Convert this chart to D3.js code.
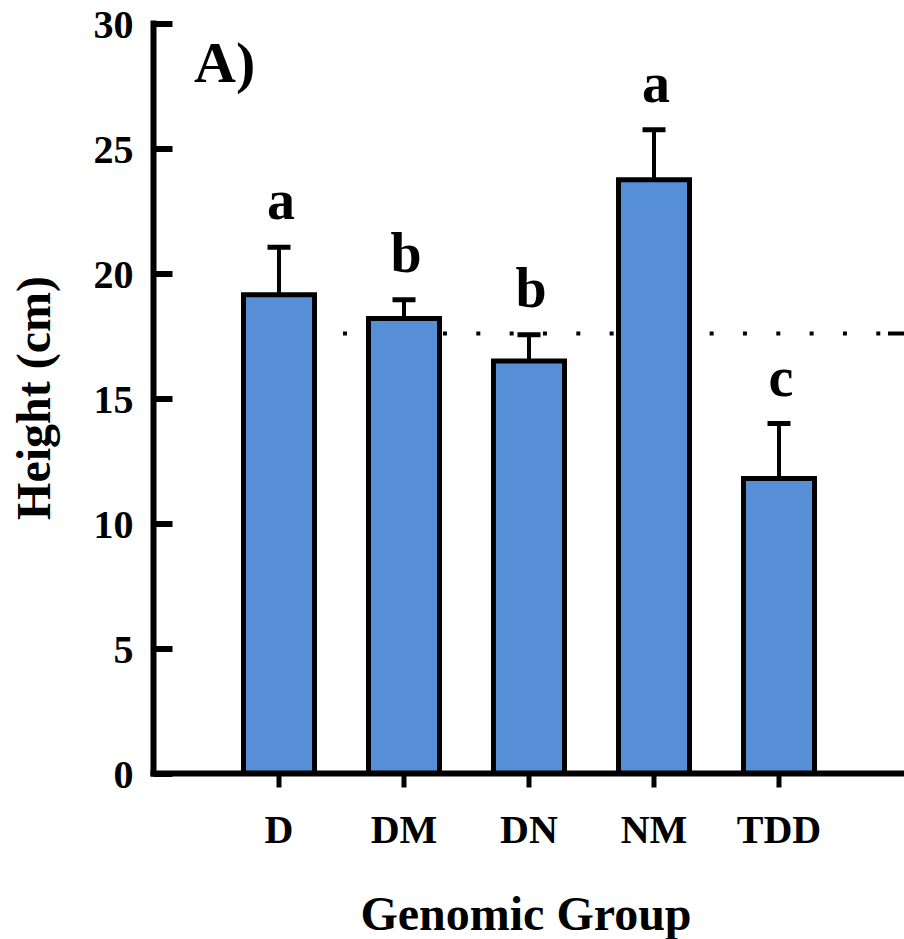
<!DOCTYPE html>
<html>
<head>
<meta charset="utf-8">
<script src="https://cdn.jsdelivr.net/npm/d3@7"></script>
<style>
  body { margin: 0; background: #fff; }
  svg text { font-family: "Liberation Serif", "Times New Roman", serif; font-weight: bold; fill: #000; }
</style>
</head>
<body>
<svg id="chart" width="904" height="939"></svg>
<script>
// values
var groups = ['D', 'DM', 'DN', 'NM', 'TDD']
var means = [19.15, 18.2, 16.5, 23.75, 11.8]
var errs = [1.9, 0.75, 1.05, 2.0, 2.2]
var letters = ['a', 'b', 'b', 'a', 'c']
var yTicks = [0, 5, 10, 15, 20, 25, 30]
var refLine = 17.6

var svg = d3.select('#chart')

var x = d3.scaleBand().domain(groups).range([216.5, 841.5]).paddingInner(0.432).paddingOuter(0.216)
var y = d3.scaleLinear().domain([0, 30]).range([773.5, 23.5])

// dotted reference line (behind bars)
svg.append('line')
  .attr('x1', 343).attr('x2', 888)
  .attr('y1', y(refLine)).attr('y2', y(refLine))
  .style('stroke', '#000').style('stroke-width', 4)
  .style('stroke-dasharray', '4,29.33')
svg.append('line')
  .attr('x1', 888).attr('x2', 904)
  .attr('y1', y(refLine)).attr('y2', y(refLine))
  .style('stroke', '#000').style('stroke-width', 4)

var data = groups.map(function(g, i){
  return {g: g, v: means[i], e: errs[i], l: letters[i]}
})

// error bars
var eb = svg.selectAll('.err').data(data).enter().append('g').attr('class', 'err')
eb.append('line')
  .attr('x1', function(d){ return x(d.g) + x.bandwidth()/2 })
  .attr('x2', function(d){ return x(d.g) + x.bandwidth()/2 })
  .attr('y1', function(d){ return y(d.v) })
  .attr('y2', function(d){ return y(d.v + d.e) })
  .style('stroke', '#000').style('stroke-width', 4)
eb.append('line')
  .attr('x1', function(d){ return x(d.g) + x.bandwidth()/2 - 11.5 })
  .attr('x2', function(d){ return x(d.g) + x.bandwidth()/2 + 11.5 })
  .attr('y1', function(d){ return y(d.v + d.e) })
  .attr('y2', function(d){ return y(d.v + d.e) })
  .style('stroke', '#000').style('stroke-width', 5)

// bars
svg.selectAll('.bar').data(data).enter().append('rect')
  .attr('class', 'bar')
  .attr('x', function(d){ return x(d.g) })
  .attr('width', x.bandwidth())
  .attr('y', function(d){ return y(d.v) })
  .attr('height', function(d){ return y(0) - y(d.v) })
  .style('fill', '#578fd6')
  .style('stroke', '#000')
  .style('stroke-width', 5)

// significance letters
svg.selectAll('.sig').data(data).enter().append('text')
  .attr('class', 'sig')
  .attr('x', function(d){ return x(d.g) + x.bandwidth()/2 + 2 })
  .attr('y', function(d){ return y(d.v + d.e) - 28 })
  .attr('text-anchor', 'middle')
  .style('font-size', '56px')
  .text(function(d){ return d.l })

// y axis
var yAxis = svg.append('g')
  .attr('transform', 'translate(153.5,0)')
  .call(d3.axisLeft(y).tickValues(yTicks).tickSizeInner(-19).tickSizeOuter(0).tickPadding(20))
yAxis.select('.domain').remove()
yAxis.selectAll('.tick line').style('stroke', '#000').style('stroke-width', 6)
yAxis.selectAll('.tick text').style('font-size', '40px').attr('dy', '0.34em')
yAxis.append('line')
  .attr('x1', 0).attr('x2', 0).attr('y1', 20.5).attr('y2', 776.5)
  .style('stroke', '#000').style('stroke-width', 6)

// x axis
var xAxis = svg.append('g')
  .attr('transform', 'translate(0,' + y(0) + ')')
  .call(d3.axisBottom(x).tickSizeInner(14).tickSizeOuter(0).tickPadding(27))
xAxis.select('.domain').remove()
xAxis.selectAll('.tick line').style('stroke', '#000').style('stroke-width', 5)
xAxis.selectAll('.tick text').style('font-size', '40px')
xAxis.append('line')
  .attr('x1', 150.5).attr('x2', 904).attr('y1', 0).attr('y2', 0)
  .style('stroke', '#000').style('stroke-width', 6)

// titles
svg.append('text')
  .attr('x', 526).attr('y', 930)
  .attr('text-anchor', 'middle')
  .style('font-size', '48px')
  .text('Genomic Group')

svg.append('text')
  .attr('transform', 'translate(50,398) rotate(-90)')
  .attr('text-anchor', 'middle')
  .style('font-size', '48px')
  .text('Height (cm)')

svg.append('text')
  .attr('x', 194).attr('y', 82)
  .style('font-size', '58px')
  .text('A)')
</script>
</body>
</html>
